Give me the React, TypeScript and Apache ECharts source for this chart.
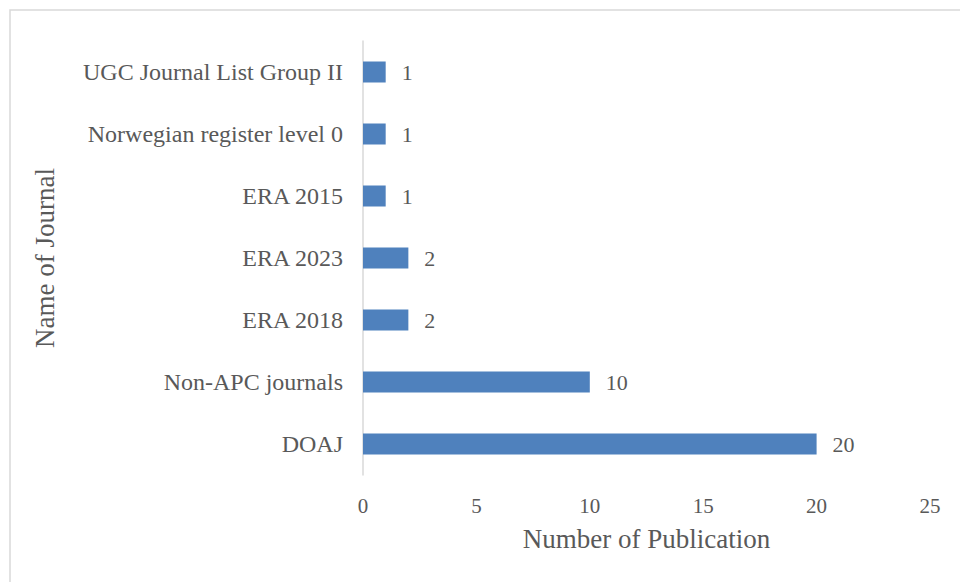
import React, { useEffect, useRef } from "react";
import * as echarts from "echarts";

const categories = [
  "DOAJ",
  "Non-APC journals",
  "ERA 2018",
  "ERA 2023",
  "ERA 2015",
  "Norwegian register level 0",
  "UGC Journal List Group II",
];
const publications = [20, 10, 2, 2, 1, 1, 1];
const xTicks = { min: 0, max: 25, interval: 5 };
const xAxisTitle = "Number of Publication";
const yAxisTitle = "Name of Journal";

export default function App() {
  const ref = useRef<HTMLDivElement>(null);
  useEffect(() => {
    document.body.style.margin = "0";
    const chart = echarts.init(ref.current!, null, { renderer: "svg" });
    const font = "'Liberation Serif', 'Times New Roman', serif";
    const textColor = "#595959";
    chart.setOption({
      animation: false,
      backgroundColor: "#ffffff",
      textStyle: { fontFamily: font },
      graphic: [
        {
          type: "rect",
          shape: { x: 10, y: 10, width: 1000, height: 700 },
          style: { fill: "none", stroke: "#d9d9d9", lineWidth: 1.5 },
          silent: true,
        },
      ],
      grid: { left: 363, right: 30, top: 41, bottom: 107, containLabel: false },
      xAxis: {
        type: "value",
        min: xTicks.min,
        max: xTicks.max,
        interval: xTicks.interval,
        name: xAxisTitle,
        nameLocation: "middle",
        nameGap: 50,
        nameTextStyle: { fontSize: 27, color: textColor, fontFamily: font },
        axisLine: { show: false },
        axisTick: { show: false },
        splitLine: { show: false },
        axisLabel: { fontSize: 21, color: textColor, margin: 20, fontFamily: font },
      },
      yAxis: {
        type: "category",
        data: categories,
        name: yAxisTitle,
        nameLocation: "middle",
        nameGap: 305,
        nameTextStyle: { fontSize: 27, color: textColor, fontFamily: font },
        axisLine: { show: true, lineStyle: { color: "#d9d9d9", width: 1.5 } },
        axisTick: { show: false },
        splitLine: { show: false },
        axisLabel: { fontSize: 24, color: textColor, margin: 20, fontFamily: font },
      },
      series: [
        {
          type: "bar",
          data: publications,
          barWidth: 21,
          itemStyle: { color: "#4f81bd" },
          label: {
            show: true,
            position: "right",
            distance: 16,
            fontSize: 22,
            color: textColor,
            fontFamily: font,
          },
        },
      ],
    });
    return () => chart.dispose();
  }, []);
  return <div ref={ref} style={{ width: 960, height: 582 }} />;
}
